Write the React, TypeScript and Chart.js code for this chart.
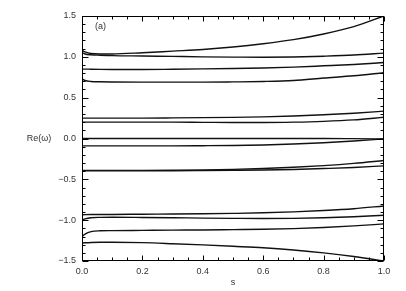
import React, { useEffect, useRef } from "react";
import { Chart, registerables } from "chart.js";

Chart.register(...registerables);

const sValues = [0, 0.01, 0.03, 0.06, 0.1, 0.2, 0.3, 0.4, 0.5, 0.6, 0.7, 0.8, 0.9, 1.0];

const branch1 = [1.498, 1.498, 1.498, 1.498, 1.498, 1.498, 1.498, 1.498, 1.498, 1.498, 1.498, 1.498, 1.498, 1.498];
const branch2 = [1.08, 1.06, 1.04, 1.035, 1.035, 1.05, 1.07, 1.09, 1.12, 1.16, 1.21, 1.28, 1.37, 1.5];
const branch3 = [1.05, 1.035, 1.025, 1.02, 1.015, 1.01, 1.005, 1.0, 0.997, 0.995, 0.998, 1.008, 1.022, 1.045];
const branch4 = [0.85, 0.85, 0.848, 0.846, 0.845, 0.845, 0.848, 0.852, 0.857, 0.864, 0.874, 0.89, 0.907, 0.93];
const branch5 = [0.73, 0.71, 0.698, 0.694, 0.692, 0.69, 0.69, 0.69, 0.693, 0.698, 0.71, 0.74, 0.768, 0.805];
const branch6 = [0.25, 0.25, 0.25, 0.25, 0.25, 0.25, 0.252, 0.255, 0.259, 0.265, 0.275, 0.29, 0.31, 0.335];
const branch7 = [0.2, 0.2, 0.2, 0.2, 0.2, 0.2, 0.2, 0.198, 0.196, 0.196, 0.2, 0.21, 0.228, 0.26];
const branch8 = [0.0, 0.0, 0.0, 0.0, 0.0, 0.0, 0.0, 0.0, 0.0, 0.0, 0.0, 0.0, -0.002, -0.005];
const branch9 = [-0.09, -0.09, -0.09, -0.09, -0.09, -0.09, -0.09, -0.088, -0.085, -0.079, -0.068, -0.052, -0.03, -0.005];
const branch10 = [-0.39, -0.39, -0.39, -0.39, -0.39, -0.39, -0.389, -0.386, -0.378, -0.367, -0.352, -0.332, -0.305, -0.27];
const branch11 = [-0.395, -0.395, -0.395, -0.395, -0.395, -0.395, -0.395, -0.393, -0.39, -0.386, -0.379, -0.368, -0.355, -0.335];
const branch12 = [-0.935, -0.932, -0.93, -0.93, -0.93, -0.927, -0.925, -0.922, -0.917, -0.91, -0.898, -0.882, -0.86, -0.826];
const branch13 = [-1.0, -0.985, -0.97, -0.966, -0.965, -0.967, -0.97, -0.975, -0.978, -0.98, -0.978, -0.97, -0.958, -0.94];
const branch14 = [-1.2, -1.17, -1.14, -1.13, -1.128, -1.125, -1.122, -1.12, -1.116, -1.112, -1.103, -1.09, -1.07, -1.046];
const branch15 = [-1.28, -1.277, -1.273, -1.27, -1.27, -1.275, -1.288, -1.303, -1.32, -1.338, -1.365, -1.4, -1.445, -1.5];

const branches = [
  branch1, branch2, branch3, branch4, branch5, branch6, branch7, branch8,
  branch9, branch10, branch11, branch12, branch13, branch14, branch15,
];

const xTickValues = [0, 0.2, 0.4, 0.6, 0.8, 1.0];
const yTickValues = [-1.5, -1.0, -0.5, 0.0, 0.5, 1.0, 1.5];
const xTitle = "s";
const yTitle = "Re(ω)";
const panelLabel = "(a)";

const FONT = "'Liberation Sans', Arial, sans-serif";

const fmt = (v: number) => (v < -1e-9 ? "−" + Math.abs(v).toFixed(1) : Math.abs(v).toFixed(1));

const framePlugin = {
  id: "framePlugin",
  afterDraw(chart: any) {
    const { ctx, chartArea } = chart;
    const xs = chart.scales.x;
    const ys = chart.scales.y;
    const L = Math.round(chartArea.left) + 0.5;
    const R = Math.round(chartArea.right) - 0.5;
    const T = Math.round(chartArea.top) + 0.5;
    const B = Math.round(chartArea.bottom) - 0.5;
    ctx.save();
    ctx.strokeStyle = "#000";
    ctx.lineWidth = 1;
    ctx.strokeRect(L, T, R - L, B - T);
    ctx.beginPath();
    for (let i = -15; i <= 15; i++) {
      const v = i / 10;
      const y = Math.round(ys.getPixelForValue(v)) + 0.5;
      const len = i % 5 === 0 ? 6 : 3;
      ctx.moveTo(L, y);
      ctx.lineTo(L + len, y);
      ctx.moveTo(R, y);
      ctx.lineTo(R - len, y);
    }
    for (let i = 0; i <= 20; i++) {
      const v = i / 20;
      const x = Math.round(xs.getPixelForValue(v)) + 0.5;
      const len = i % 4 === 0 ? 5 : 3;
      ctx.moveTo(x, B);
      ctx.lineTo(x, B - len);
      ctx.moveTo(x, T);
      ctx.lineTo(x, T + len);
    }
    ctx.stroke();

    ctx.fillStyle = "#333";
    ctx.font = "9px " + FONT;
    ctx.textBaseline = "middle";
    ctx.textAlign = "center";
    ctx.fillText(yTitle, 39, ys.getPixelForValue(0));
    ctx.fillText(xTitle, (chartArea.left + chartArea.right) / 2, chartArea.bottom + 22);
    ctx.textAlign = "left";
    ctx.fillText(panelLabel, chartArea.left + 13, chartArea.top + 11);
    ctx.restore();
  },
};

export default function App() {
  const ref = useRef<HTMLCanvasElement | null>(null);

  useEffect(() => {
    if (!ref.current) return;
    const datasets = branches.map((b) => ({
      data: b.map((v, i) => ({ x: sValues[i], y: v })),
      borderColor: "#111",
      borderWidth: 1.4,
      pointRadius: 0,
      fill: false,
      cubicInterpolationMode: "monotone" as const,
    }));
    const chart = new Chart(ref.current, {
      type: "line",
      data: { datasets },
      plugins: [framePlugin],
      options: {
        animation: false,
        responsive: true,
        maintainAspectRatio: false,
        layout: { padding: { top: 16, right: 22, bottom: 0, left: 0 } },
        plugins: { legend: { display: false }, tooltip: { enabled: false } },
        scales: {
          x: {
            type: "linear",
            min: 0,
            max: 1,
            grid: { display: false, drawTicks: false },
            border: { display: false },
            afterBuildTicks: (s: any) => {
              s.ticks = xTickValues.map((v) => ({ value: v }));
            },
            afterFit: (s: any) => {
              s.height = 30;
            },
            ticks: {
              padding: 5,
              autoSkip: false,
              maxRotation: 0,
              color: "#333",
              font: { family: FONT, size: 9 },
              callback: (v: any) => fmt(Number(v)),
            },
          },
          y: {
            type: "linear",
            min: -1.5,
            max: 1.5,
            grid: { display: false, drawTicks: false },
            border: { display: false },
            afterBuildTicks: (s: any) => {
              s.ticks = yTickValues.map((v) => ({ value: v }));
            },
            afterFit: (s: any) => {
              s.width = 82;
            },
            ticks: {
              padding: 6,
              autoSkip: false,
              color: "#333",
              font: { family: FONT, size: 9 },
              callback: (v: any) => fmt(Number(v)),
            },
          },
        },
      },
    });
    return () => chart.destroy();
  }, []);

  return (
    <div style={{ position: "absolute", left: 0, top: 0, width: 406, height: 291, background: "#fff" }}>
      <canvas ref={ref} />
    </div>
  );
}
